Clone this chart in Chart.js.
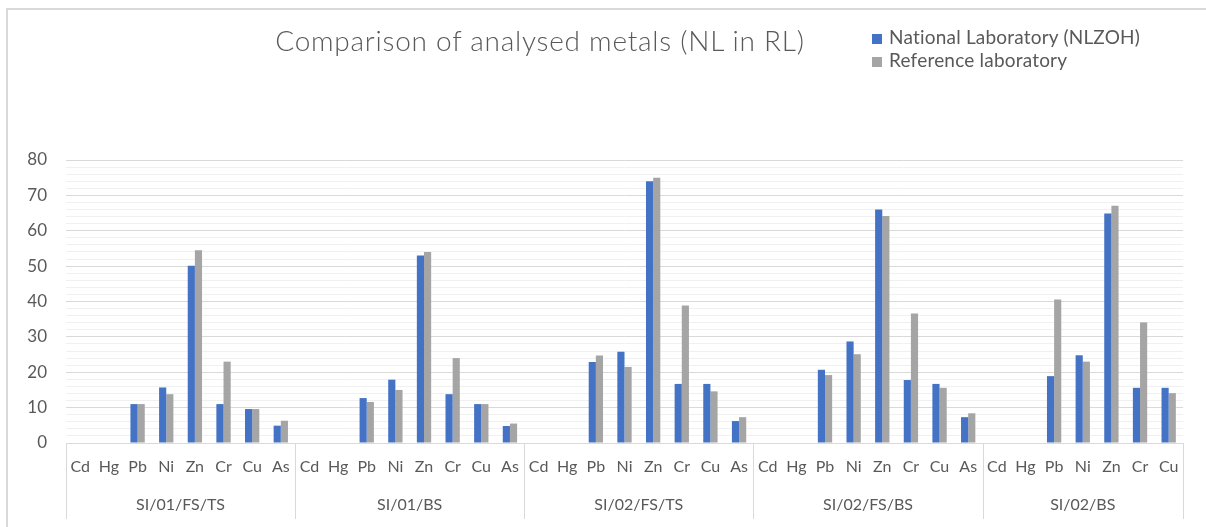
<!DOCTYPE html>
<html>
<head>
<meta charset="utf-8">
<script src="https://cdn.jsdelivr.net/npm/chart.js@4/dist/chart.umd.min.js"></script>
<style>
  html, body { margin: 0; padding: 0; background: #fff; }
  #wrap { position: relative; width: 1206px; height: 527px; overflow: hidden; }
  #frame { position: absolute; left: 6px; top: 8px; width: 1300px; height: 600px;
           border-left: 2px solid #d9d9d9; border-top: 2px solid #d9d9d9; box-sizing: border-box; }
  canvas { position: absolute; left: 0; top: 0; }
  #title { position: absolute; left: 0; width: 1080px; top: 23px; text-align: center;
           font-family: Lato, sans-serif; font-weight: 300; font-size: 28px; letter-spacing: 0.75px; color: #595959; white-space: nowrap; }
  #legend { position: absolute; left: 872px; top: 25px; font-family: Lato, sans-serif; font-size: 19px; letter-spacing: 0.2px; color: #595959; }
  .item { height: 23px; line-height: 23px; white-space: nowrap; }
  .sw { display: inline-block; width: 10px; height: 10px; margin-right: 7px; vertical-align: 0px; }
</style>
</head>
<body>
<div id="wrap">
  <div id="frame"></div>
  <canvas id="chart" width="1206" height="527"></canvas>
  <div id="title">Comparison of analysed metals (NL in RL)</div>
  <div id="legend"></div>
</div>
<script>
// Sampling sites and the metals measured at each
const groups = ['SI/01/FS/TS', 'SI/01/BS', 'SI/02/FS/TS', 'SI/02/FS/BS', 'SI/02/BS'];
const groupMetals = [
  ['Cd', 'Hg', 'Pb', 'Ni', 'Zn', 'Cr', 'Cu', 'As'],
  ['Cd', 'Hg', 'Pb', 'Ni', 'Zn', 'Cr', 'Cu', 'As'],
  ['Cd', 'Hg', 'Pb', 'Ni', 'Zn', 'Cr', 'Cu', 'As'],
  ['Cd', 'Hg', 'Pb', 'Ni', 'Zn', 'Cr', 'Cu', 'As'],
  ['Cd', 'Hg', 'Pb', 'Ni', 'Zn', 'Cr', 'Cu']
];

// National Laboratory (NLZOH), one row per site
const nlSI01FSTS = [null, null, 11.0, 15.7, 50.1, 11.0, 9.6, 4.9];
const nlSI01BS   = [null, null, 12.7, 17.9, 53.0, 13.8, 11.0, 4.8];
const nlSI02FSTS = [null, null, 22.9, 25.8, 74.0, 16.7, 16.7, 6.2];
const nlSI02FSBS = [null, null, 20.7, 28.7, 66.0, 17.8, 16.7, 7.3];
const nlSI02BS   = [null, null, 18.9, 24.8, 64.9, 15.6, 15.6];

// Reference laboratory, one row per site
const rlSI01FSTS = [null, null, 11.0, 13.8, 54.5, 23.0, 9.6, 6.3];
const rlSI01BS   = [null, null, 11.6, 15.0, 54.0, 24.0, 11.0, 5.5];
const rlSI02FSTS = [null, null, 24.7, 21.5, 75.0, 38.9, 14.6, 7.3];
const rlSI02FSBS = [null, null, 19.2, 25.1, 64.2, 36.6, 15.6, 8.4];
const rlSI02BS   = [null, null, 40.6, 23.0, 67.1, 34.1, 14.1];

const yTicks = [0, 10, 20, 30, 40, 50, 60, 70, 80];

const seriesNames = ['National Laboratory (NLZOH)', 'Reference laboratory'];
const seriesColors = ['#4472C4', '#A5A5A5'];

const labels = groupMetals.flat();
const nlValues = [nlSI01FSTS, nlSI01BS, nlSI02FSTS, nlSI02FSBS, nlSI02BS].flat();
const rlValues = [rlSI01FSTS, rlSI01BS, rlSI02FSTS, rlSI02FSBS, rlSI02BS].flat();

// HTML legend
const legendEl = document.getElementById('legend');
seriesNames.forEach((name, i) => {
  const d = document.createElement('div');
  d.className = 'item';
  d.innerHTML = '<span class="sw" style="background:' + seriesColors[i] + '"></span>' + name;
  legendEl.appendChild(d);
});

const textColor = '#595959';
const lineColor = '#d9d9d9';

// Second label row: site names with separators under the category axis
const groupAxisPlugin = {
  id: 'groupAxis',
  afterDraw(chart) {
    const x = chart.scales.x;
    const ctx = chart.ctx;
    const n = chart.data.labels.length;
    const w = (x.right - x.left) / n;
    const top = chart.chartArea.bottom;
    ctx.save();
    ctx.strokeStyle = lineColor;
    ctx.lineWidth = 1;
    ctx.fillStyle = textColor;
    ctx.font = '16px Lato, sans-serif';
    ctx.textAlign = 'center';
    ctx.textBaseline = 'middle';
    let start = 0;
    const edges = [x.left];
    groups.forEach((g, i) => {
      const count = groupMetals[i].length;
      const l = x.left + start * w;
      const r = x.left + (start + count) * w;
      edges.push(r);
      ctx.fillText(g, (l + r) / 2, top + 62);
      start += count;
    });
    edges.forEach(e => {
      const px = Math.round(e) + 0.5;
      ctx.beginPath();
      ctx.moveTo(px, top);
      ctx.lineTo(px, top + 76);
      ctx.stroke();
    });
    ctx.restore();
  }
};

new Chart(document.getElementById('chart'), {
  type: 'bar',
  data: {
    labels: labels,
    datasets: [
      { label: seriesNames[0], data: nlValues, backgroundColor: seriesColors[0] },
      { label: seriesNames[1], data: rlValues, backgroundColor: seriesColors[1] }
    ]
  },
  options: {
    responsive: false,
    animation: false,
    layout: { padding: { top: 160, right: 23, bottom: 0, left: 0 } },
    datasets: { bar: { categoryPercentage: 0.5, barPercentage: 1.0 } },
    plugins: { legend: { display: false }, title: { display: false }, tooltip: { enabled: false } },
    scales: {
      x: {
        grid: { display: false, drawTicks: false },
        border: { display: true, color: lineColor, width: 1 },
        ticks: { color: textColor, font: { family: 'Lato, sans-serif', size: 16 }, padding: 14, autoSkip: false, maxRotation: 0 },
        afterFit(scale) { scale.height = 84; }
      },
      y: {
        min: yTicks[0],
        max: yTicks[yTicks.length - 1],
        grid: {
          drawTicks: false,
          color: c => (c.tick.value % 10 === 0 ? lineColor : '#f0f0f0'),
          lineWidth: 1
        },
        border: { display: false },
        ticks: {
          stepSize: 2,
          autoSkip: false,
          color: textColor,
          font: { family: 'Lato, sans-serif', size: 17 },
          padding: 19,
          callback: v => (yTicks.includes(v) ? String(v) : '')
        },
        afterFit(scale) { scale.width = 66; }
      }
    }
  },
  plugins: [groupAxisPlugin]
});
</script>
</body>
</html>
